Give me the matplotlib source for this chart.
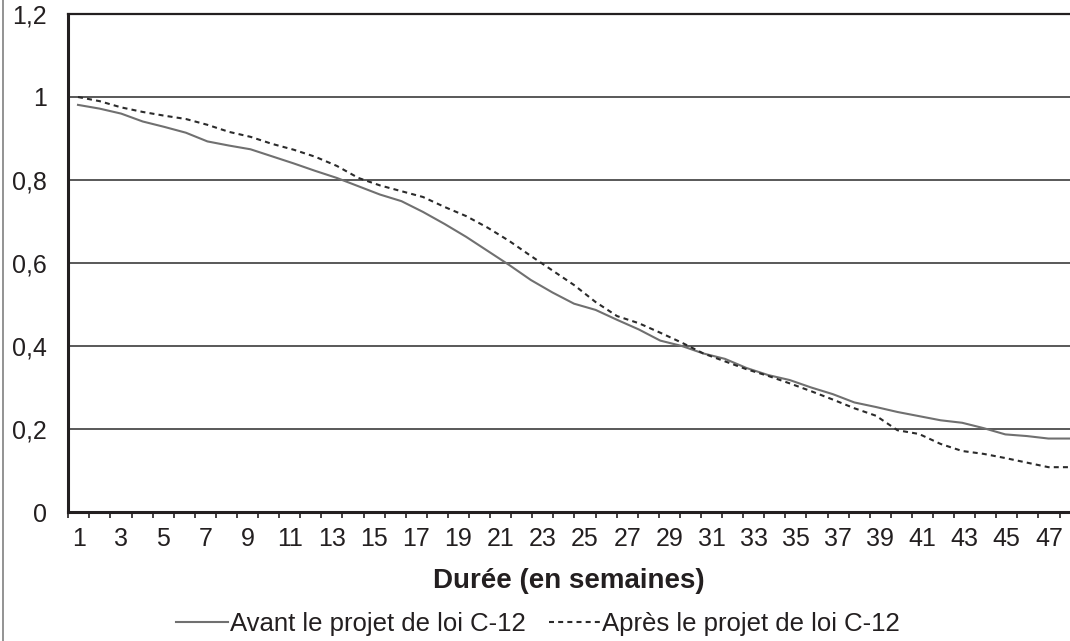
import matplotlib.pyplot as plt
import numpy as np
from matplotlib.lines import Line2D

plt.rcParams['font.family'] = ['Liberation Sans', 'DejaVu Sans']

# Data
weeks = np.arange(1, 48)
avant = [0.981, 0.972, 0.960, 0.941, 0.928, 0.914, 0.893, 0.883, 0.874, 0.857,
         0.840, 0.822, 0.805, 0.785, 0.765, 0.749, 0.723, 0.694, 0.663, 0.629,
         0.595, 0.559, 0.529, 0.502, 0.487, 0.463, 0.440, 0.413, 0.400, 0.382,
         0.369, 0.347, 0.330, 0.318, 0.300, 0.284, 0.264, 0.253, 0.241, 0.231,
         0.221, 0.215, 0.202, 0.187, 0.183, 0.177, 0.177]
apres = [1.000, 0.990, 0.975, 0.964, 0.955, 0.947, 0.933, 0.916, 0.904, 0.887,
         0.873, 0.856, 0.834, 0.805, 0.787, 0.773, 0.759, 0.735, 0.713, 0.685,
         0.653, 0.617, 0.582, 0.547, 0.506, 0.472, 0.455, 0.432, 0.408, 0.382,
         0.363, 0.344, 0.328, 0.310, 0.291, 0.271, 0.250, 0.232, 0.197, 0.188,
         0.164, 0.147, 0.140, 0.130, 0.119, 0.108, 0.108]
week_labels = [str(w) for w in range(1, 48, 2)]
y_ticks = [0, 0.2, 0.4, 0.6, 0.8, 1.0, 1.2]
y_labels = ['0', '0,2', '0,4', '0,6', '0,8', '1', '1,2']

fig = plt.figure(figsize=(10.7, 6.41), dpi=100)
ax = fig.add_axes([68 / 1070, 1 - 512 / 641, 1 - 68 / 1070, (512 - 14) / 641])

ax.plot(weeks, avant, color='#707070', linewidth=1.5, label='Avant le projet de loi C-12')
ax.plot(weeks, apres, color='#2b2b2b', linewidth=1.5, linestyle=(0, (2.4, 2.0)),
        label='Après le projet de loi C-12')

# gridlines
for v in y_ticks[1:-1]:
    ax.axhline(v, color='#2b2b2b', linewidth=1.1, zorder=0)

ax.set_ylim(0, 1.2)
ax.set_xlim(0.536, 47)
ax.set_yticks(y_ticks)
ax.set_yticklabels(y_labels, fontsize=18, color='#231f20')
ax.tick_params(axis='y', length=0, pad=15)

# category labels sit slightly tighter than the data points
step = 21.09 / 21.565
label_pos = [1.037 + (int(s) - 1) * step for s in week_labels]
ax.set_xticks(label_pos)
ax.set_xticklabels(week_labels, fontsize=18, color='#231f20')
ax.tick_params(axis='x', which='major', length=0, pad=11)
bounds = [1 - 9.7 / 21.565 + i * step for i in range(48)]
ax.set_xticks(bounds, minor=True)
ax.tick_params(axis='x', which='minor', length=4.5, width=1.2, color='#231f20')

for side in ['left', 'bottom']:
    ax.spines[side].set_linewidth(2.2)
    ax.spines[side].set_color('#231f20')
ax.spines['top'].set_linewidth(1.6)
ax.spines['top'].set_color('#231f20')
ax.spines['right'].set_visible(False)

ax.set_xlabel('Durée (en semaines)', fontsize=20, fontweight='bold', labelpad=12, color='#231f20')

fig.legend(loc='center', bbox_to_anchor=(0.503, 1 - 624 / 641), ncol=2, frameon=False,
           fontsize=18.5, handlelength=2.0, handletextpad=0.08, columnspacing=0.9,
           labelcolor='#231f20')

# left frame line of the original image
fig.add_artist(Line2D([2.5 / 1070, 2.5 / 1070], [0, 1], color='#808080', linewidth=1.2,
                      transform=fig.transFigure))

plt.savefig('out.png', dpi=100)
